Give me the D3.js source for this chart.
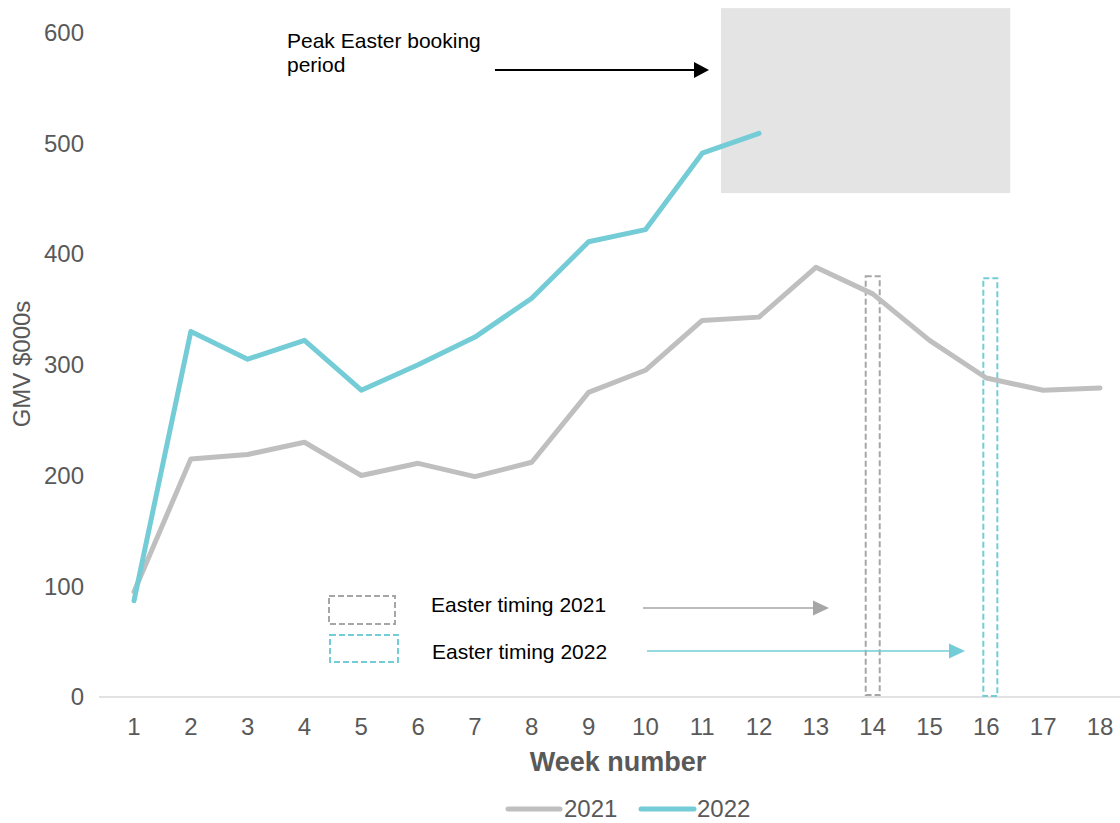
<!DOCTYPE html>
<html>
<head>
<meta charset="utf-8">
<script src="https://cdn.jsdelivr.net/npm/d3@7"></script>
<style>
  html, body { margin: 0; padding: 0; background: #ffffff; }
  svg { display: block; font-family: "Liberation Sans", Arial, sans-serif; }
</style>
</head>
<body>
<svg id="chart" width="1120" height="823"></svg>
<script>
// ---- data ----
const weeks = [1,2,3,4,5,6,7,8,9,10,11,12,13,14,15,16,17,18];
const gmv2021 = [95,215,219,230,200,211,199,212,275,295,340,343,388,364,322,288,277,279];
const gmv2022 = [87,330,305,322,277,300,325,360,411,422,491,509];
const yTicks = [0,100,200,300,400,500,600];
const seriesNames = ["2021", "2022"];
const seriesColors = ["#BFBFBF", "#74CCD6"];
// annotation extents (data units)
const peakWeeks = [11.33, 16.42];
const peakValues = [455, 622];
const easterWeek2021 = 14;
const easterWeek2022 = 16.07;
const easterTop = [380, 378];

// ---- layout ----
const svg = d3.select("#chart");
const x = d3.scaleLinear().domain([1, 18]).range([134, 1100]);
const y = d3.scaleLinear().domain([0, 600]).range([697, 32.5]);
const tickColor = "#595959";

// peak booking box
svg.append("rect")
  .attr("x", x(peakWeeks[0])).attr("y", y(peakValues[1]))
  .attr("width", x(peakWeeks[1]) - x(peakWeeks[0]))
  .attr("height", y(peakValues[0]) - y(peakValues[1]))
  .attr("fill", "#E4E4E4");

// x axis line
svg.append("line")
  .attr("x1", 99).attr("x2", 1120)
  .attr("y1", y(0)).attr("y2", y(0))
  .attr("stroke", "#D9D9D9").attr("stroke-width", 1.5);

// y tick labels
svg.append("g").selectAll("text").data(yTicks).join("text")
  .attr("x", 84).attr("y", d => y(d))
  .attr("dy", "0.35em")
  .attr("text-anchor", "end")
  .attr("font-size", 24)
  .attr("fill", tickColor)
  .text(d => d);

// x tick labels
svg.append("g").selectAll("text").data(weeks).join("text")
  .attr("x", d => x(d)).attr("y", 727)
  .attr("dy", "0.35em")
  .attr("text-anchor", "middle")
  .attr("font-size", 24)
  .attr("fill", tickColor)
  .text(d => d);

// axis titles
svg.append("text")
  .attr("x", 618).attr("y", 762).attr("dy", "0.35em")
  .attr("text-anchor", "middle")
  .attr("font-size", 27).attr("font-weight", "bold")
  .attr("fill", tickColor)
  .text("Week number");

svg.append("text")
  .attr("transform", `translate(22, 364) rotate(-90)`)
  .attr("dy", "0.35em")
  .attr("text-anchor", "middle")
  .attr("font-size", 24)
  .attr("fill", tickColor)
  .text("GMV $000s");

// easter dashed rectangles
const rectHalf = 7;
svg.append("rect")
  .attr("x", x(easterWeek2021) - rectHalf).attr("y", y(easterTop[0]))
  .attr("width", rectHalf * 2).attr("height", y(0) - y(easterTop[0]) - 2)
  .attr("fill", "none").attr("stroke", "#A6A6A6")
  .attr("stroke-width", 2).attr("stroke-dasharray", "6,3");
svg.append("rect")
  .attr("x", x(easterWeek2022) - rectHalf).attr("y", y(easterTop[1]))
  .attr("width", rectHalf * 2).attr("height", y(0) - y(easterTop[1]) - 1)
  .attr("fill", "none").attr("stroke", seriesColors[1])
  .attr("stroke-width", 2).attr("stroke-dasharray", "6,3");

// series lines
const line = d3.line().x((d, i) => x(weeks[i])).y(d => y(d));
[gmv2021, gmv2022].forEach((s, i) => {
  svg.append("path")
    .datum(s)
    .attr("d", line)
    .attr("fill", "none")
    .attr("stroke", seriesColors[i])
    .attr("stroke-width", 5)
    .attr("stroke-linejoin", "round")
    .attr("stroke-linecap", "round");
});

// arrow helper
function arrow(x1, x2, yy, color, w, hl, hw) {
  svg.append("line")
    .attr("x1", x1).attr("x2", x2 - hl + 1)
    .attr("y1", yy).attr("y2", yy)
    .attr("stroke", color).attr("stroke-width", w);
  svg.append("path")
    .attr("d", `M${x2},${yy} L${x2 - hl},${yy - hw / 2} L${x2 - hl},${yy + hw / 2} Z`)
    .attr("fill", color);
}

// peak booking annotation
svg.append("text")
  .attr("x", 287).attr("y", 48)
  .attr("font-size", 21).attr("fill", "#000")
  .text("Peak Easter booking");
svg.append("text")
  .attr("x", 287).attr("y", 72)
  .attr("font-size", 21).attr("fill", "#000")
  .text("period");
arrow(495, x(peakWeeks[0]) - 12, 70, "#000", 2, 15, 16);

// easter timing legend
svg.append("rect")
  .attr("x", 329).attr("y", 596).attr("width", 66).attr("height", 28)
  .attr("fill", "none").attr("stroke", "#A6A6A6")
  .attr("stroke-width", 2).attr("stroke-dasharray", "6,3");
svg.append("rect")
  .attr("x", 330).attr("y", 635).attr("width", 68).attr("height", 27)
  .attr("fill", "none").attr("stroke", seriesColors[1])
  .attr("stroke-width", 2).attr("stroke-dasharray", "6,3");
svg.append("text")
  .attr("x", 431).attr("y", 605).attr("dy", "0.35em")
  .attr("font-size", 21).attr("fill", "#000")
  .text("Easter timing 2021");
svg.append("text")
  .attr("x", 432).attr("y", 652).attr("dy", "0.35em")
  .attr("font-size", 21).attr("fill", "#000")
  .text("Easter timing 2022");
arrow(643, 829, 608, "#A6A6A6", 1.5, 16, 15);
arrow(647, 965, 651, seriesColors[1], 1.5, 16, 15);

// bottom legend
const legendItems = [
  { name: seriesNames[0], color: seriesColors[0], x1: 508, x2: 560, tx: 564 },
  { name: seriesNames[1], color: seriesColors[1], x1: 641, x2: 694, tx: 697 }
];
legendItems.forEach(it => {
  svg.append("line")
    .attr("x1", it.x1).attr("x2", it.x2)
    .attr("y1", 809).attr("y2", 809)
    .attr("stroke", it.color).attr("stroke-width", 5)
    .attr("stroke-linecap", "round");
  svg.append("text")
    .attr("x", it.tx).attr("y", 809).attr("dy", "0.35em")
    .attr("font-size", 24).attr("fill", tickColor)
    .text(it.name);
});
</script>
</body>
</html>
